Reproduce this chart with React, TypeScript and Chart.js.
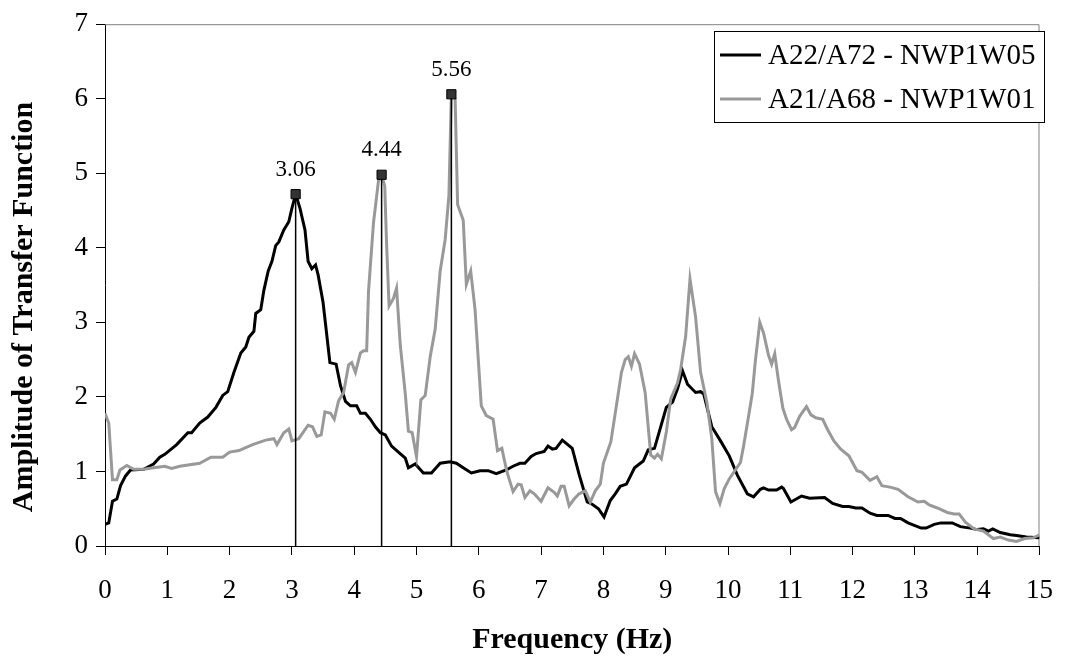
import { useEffect, useRef } from "react";
import { Chart, registerables } from "chart.js";

Chart.register(...registerables);

// Transfer function amplitude, record pair A22/A72 (NWP1W05)
const freqA22 = [
  0.0, 0.06, 0.12, 0.19, 0.25, 0.33, 0.41, 0.62, 0.78, 0.88, 0.96, 1.15, 1.33, 1.39, 1.52, 1.65,
  1.78, 1.89, 1.97, 2.07, 2.18, 2.26, 2.31, 2.39, 2.42, 2.5, 2.55, 2.62, 2.68, 2.74, 2.79, 2.87,
  2.95, 3.0, 3.06, 3.13, 3.21, 3.26, 3.32, 3.38, 3.42, 3.5, 3.61, 3.71, 3.78, 3.86, 3.94, 4.04,
  4.1, 4.18, 4.26, 4.34, 4.42, 4.5, 4.6, 4.71, 4.82, 4.87, 4.98, 5.11, 5.24, 5.38, 5.54, 5.64,
  5.75, 5.88, 6.02, 6.15, 6.28, 6.44, 6.55, 6.66, 6.74, 6.84, 6.92, 7.05, 7.11, 7.18, 7.24, 7.34,
  7.5, 7.61, 7.74, 7.82, 7.92, 8.01, 8.11, 8.19, 8.27, 8.37, 8.5, 8.64, 8.72, 8.82, 9.01, 9.11,
  9.19, 9.27, 9.35, 9.48, 9.56, 9.61, 9.74, 9.88, 10.02, 10.15, 10.31, 10.41, 10.52, 10.57, 10.65,
  10.78, 10.86, 10.89, 11.01, 11.18, 11.31, 11.55, 11.68, 11.84, 11.94, 12.05, 12.15, 12.28, 12.39,
  12.57, 12.68, 12.77, 12.89, 13.1, 13.18, 13.31, 13.42, 13.6, 13.73, 13.89, 14.0, 14.1, 14.18,
  14.25, 14.37, 14.53, 14.63, 14.79, 15.0,
];
const ampA22 = [
  0.29, 0.31, 0.6, 0.63, 0.81, 0.94, 1.02, 1.03, 1.1, 1.19, 1.23, 1.36, 1.52, 1.52, 1.65, 1.73,
  1.86, 2.02, 2.07, 2.33, 2.59, 2.67, 2.8, 2.88, 3.12, 3.17, 3.43, 3.69, 3.82, 4.03, 4.08, 4.24,
  4.35, 4.53, 4.72, 4.53, 4.24, 3.82, 3.72, 3.77, 3.64, 3.27, 2.46, 2.44, 2.15, 1.94, 1.88, 1.88,
  1.78, 1.78, 1.7, 1.6, 1.52, 1.49, 1.34, 1.26, 1.18, 1.05, 1.1, 0.98, 0.98, 1.11, 1.13, 1.11,
  1.05, 0.98, 1.01, 1.01, 0.97, 1.02, 1.07, 1.11, 1.11, 1.2, 1.24, 1.27, 1.34, 1.3, 1.31, 1.42,
  1.31, 0.96, 0.59, 0.56, 0.5, 0.39, 0.61, 0.7, 0.8, 0.83, 1.05, 1.14, 1.29, 1.31, 1.86, 1.93,
  2.11, 2.35, 2.17, 2.06, 2.07, 2.04, 1.6, 1.41, 1.21, 0.95, 0.7, 0.66, 0.76, 0.78, 0.75,
  0.75, 0.79, 0.77, 0.59, 0.67, 0.64, 0.65, 0.57, 0.53, 0.53, 0.51, 0.51, 0.44, 0.41,
  0.41, 0.37, 0.37, 0.31, 0.24, 0.24, 0.29, 0.31, 0.31, 0.26, 0.24, 0.22, 0.23, 0.2,
  0.23, 0.18, 0.15, 0.14, 0.12, 0.11,
];

// Transfer function amplitude, record pair A21/A68 (NWP1W01)
const freqA21 = [
  0.0, 0.06, 0.12, 0.19, 0.24, 0.35, 0.46, 0.62, 0.78, 0.96, 1.07, 1.2, 1.52, 1.7, 1.89, 2.0,
  2.15, 2.37, 2.58, 2.71, 2.76, 2.87, 2.95, 3.0, 3.11, 3.26, 3.33, 3.4, 3.47, 3.53, 3.62, 3.68,
  3.75, 3.83, 3.91, 3.96, 4.02, 4.1, 4.15, 4.2, 4.23, 4.31, 4.39, 4.44, 4.49, 4.52, 4.56, 4.63,
  4.68, 4.74, 4.82, 4.87, 4.93, 5.0, 5.07, 5.14, 5.22, 5.3, 5.38, 5.46, 5.52, 5.56, 5.62, 5.66,
  5.75, 5.8, 5.87, 5.94, 6.04, 6.12, 6.23, 6.3, 6.37, 6.45, 6.55, 6.63, 6.68, 6.74, 6.82, 6.89,
  7.0, 7.11, 7.21, 7.26, 7.32, 7.37, 7.45, 7.53, 7.61, 7.71, 7.79, 7.87, 7.95, 8.0, 8.12, 8.21,
  8.29, 8.35, 8.4, 8.45, 8.5, 8.58, 8.67, 8.76, 8.82, 8.87, 8.93, 9.01, 9.08, 9.19, 9.24, 9.32,
  9.39, 9.48, 9.56, 9.66, 9.74, 9.8, 9.87, 9.94, 10.02, 10.2, 10.25, 10.33, 10.39, 10.44, 10.51,
  10.57, 10.65, 10.7, 10.75, 10.81, 10.88, 10.94, 11.02, 11.07, 11.15, 11.26, 11.33, 11.41, 11.52,
  11.6, 11.7, 11.81, 11.94, 12.07, 12.15, 12.28, 12.39, 12.47, 12.6, 12.73, 12.89, 13.05, 13.15,
  13.23, 13.36, 13.52, 13.63, 13.71, 13.81, 13.95, 14.1, 14.26, 14.37, 14.5, 14.63, 14.76, 14.9,
  15.0,
];
const ampA21 = [
  1.78, 1.65, 0.89, 0.89, 1.02, 1.08, 1.03, 1.03, 1.05, 1.07, 1.04, 1.07, 1.11, 1.19, 1.19, 1.26,
  1.28, 1.36, 1.42, 1.44, 1.36, 1.52, 1.57, 1.41, 1.44, 1.62, 1.6, 1.47, 1.49, 1.8, 1.78, 1.7,
  1.95, 2.06, 2.43, 2.46, 2.33, 2.59, 2.62, 2.62, 3.42, 4.34, 4.9, 4.98, 4.83, 4.05, 3.22, 3.32,
  3.46, 2.69, 2.04, 1.54, 1.52, 1.2, 1.96, 2.02, 2.54, 2.91, 3.69, 4.11, 4.7, 6.06, 6.0, 4.58,
  4.37, 3.51, 3.69, 3.17, 1.88, 1.75, 1.7, 1.28, 1.31, 1.0, 0.73, 0.83, 0.82, 0.65, 0.74, 0.7,
  0.6, 0.78, 0.72, 0.67, 0.8, 0.8, 0.54, 0.63, 0.7, 0.74, 0.59, 0.74, 0.83, 1.11, 1.4, 1.89,
  2.33, 2.5, 2.54, 2.41, 2.58, 2.44, 2.06, 1.22, 1.18, 1.23, 1.17, 1.53, 1.97, 2.19, 2.37, 2.81,
  3.58, 3.07, 2.33, 1.93, 1.44, 0.73, 0.57, 0.77, 0.9, 1.12, 1.34, 1.74, 2.05, 2.49, 3.0,
  2.86, 2.56, 2.44, 2.58, 2.22, 1.85, 1.7, 1.56, 1.59, 1.74, 1.87, 1.76, 1.72, 1.7,
  1.56, 1.41, 1.3, 1.21, 1.01, 0.99, 0.88, 0.93, 0.81, 0.79, 0.76, 0.66, 0.59, 0.6,
  0.55, 0.51, 0.45, 0.43, 0.43, 0.32, 0.23, 0.2, 0.1, 0.12, 0.08, 0.06, 0.1, 0.11,
  0.15,
];

// Identified resonance peaks
const peakFreqs = [3.06, 4.44, 5.56];
const peakAmps = [4.72, 4.98, 6.06];
const peakLabels = ["3.06", "4.44", "5.56"];

const seriesNames = ["A22/A72 - NWP1W05", "A21/A68 - NWP1W01"];
const seriesColors = ["#000000", "#999999"];

const xTickValues = [0, 1, 2, 3, 4, 5, 6, 7, 8, 9, 10, 11, 12, 13, 14, 15];
const yTickValues = [0, 1, 2, 3, 4, 5, 6, 7];

const xTitle = "Frequency (Hz)";
const yTitle = "Amplitude of Transfer Function";

const SERIF = '"Liberation Serif", "Times New Roman", Times, serif';

const toPoints = (xs: number[], ys: number[]) => xs.map((x, i) => ({ x, y: ys[i] }));

// Gray frame on the top and right of the plot area
const framePlugin = {
  id: "plotFrame",
  beforeDatasetsDraw(chart: any) {
    const { ctx, chartArea: a } = chart;
    ctx.save();
    ctx.strokeStyle = "#808080";
    ctx.lineWidth = 1;
    ctx.beginPath();
    ctx.moveTo(a.left, a.top + 0.5);
    ctx.lineTo(a.right - 0.5, a.top + 0.5);
    ctx.lineTo(a.right - 0.5, a.bottom);
    ctx.stroke();
    ctx.restore();
  },
};

// Vertical axis title, set a little below the middle of the plot
const yTitlePlugin = {
  id: "yTitle",
  afterDraw(chart: any) {
    const { ctx } = chart;
    ctx.save();
    ctx.translate(32, 307);
    ctx.rotate(-Math.PI / 2);
    ctx.font = `bold 30px ${SERIF}`;
    ctx.fillStyle = "#000";
    ctx.textAlign = "center";
    ctx.textBaseline = "alphabetic";
    ctx.fillText(yTitle, 0, 0);
    ctx.restore();
  },
};

// Frequency labels above the peak markers
const peakLabelPlugin = {
  id: "peakLabels",
  afterDatasetsDraw(chart: any) {
    const { ctx } = chart;
    const idx = chart.data.datasets.findIndex((d: any) => d.id === "peaks");
    if (idx < 0) return;
    const meta = chart.getDatasetMeta(idx);
    ctx.save();
    ctx.font = `23px ${SERIF}`;
    ctx.fillStyle = "#000";
    ctx.textAlign = "center";
    ctx.textBaseline = "bottom";
    meta.data.forEach((el: any, i: number) => {
      ctx.fillText(peakLabels[i], el.x, el.y - 13);
    });
    ctx.restore();
  },
};

// Boxed legend in the upper-right corner of the plot
const legendBoxPlugin = {
  id: "legendBox",
  afterDraw(chart: any) {
    const { ctx } = chart;
    const left = 714;
    const top = 31;
    const right = 1045;
    const bottom = 123;
    ctx.save();
    ctx.fillStyle = "#fff";
    ctx.fillRect(left, top, right - left, bottom - top);
    ctx.strokeStyle = "#000";
    ctx.lineWidth = 1;
    ctx.strokeRect(left + 0.5, top + 0.5, right - left - 1, bottom - top - 1);
    ctx.font = `29px ${SERIF}`;
    ctx.textBaseline = "middle";
    ctx.textAlign = "left";
    const rows = [55, 99];
    seriesNames.forEach((name, i) => {
      ctx.strokeStyle = seriesColors[i];
      ctx.lineWidth = 3;
      ctx.beginPath();
      ctx.moveTo(720, rows[i]);
      ctx.lineTo(761, rows[i]);
      ctx.stroke();
      ctx.fillStyle = "#000";
      ctx.fillText(name, 768, rows[i] + 1);
    });
    ctx.restore();
  },
};

export default function App() {
  const canvasRef = useRef<HTMLCanvasElement | null>(null);

  useEffect(() => {
    const canvas = canvasRef.current;
    if (!canvas) return;

    const dropLines = peakFreqs.map((f, i) => ({
      type: "line" as const,
      data: [
        { x: f, y: 0 },
        { x: f, y: peakAmps[i] },
      ],
      borderColor: "#000",
      borderWidth: 1.5,
      pointRadius: 0,
      order: 1,
    }));

    const chart = new Chart(canvas, {
      type: "scatter",
      data: {
        datasets: [
          {
            id: "peaks",
            label: "peaks",
            data: toPoints(peakFreqs, peakAmps),
            pointStyle: "rect",
            pointRadius: 6.5,
            backgroundColor: "#333333",
            borderColor: "#000",
            borderWidth: 1,
            showLine: false,
            order: 0,
          } as any,
          ...dropLines,
          {
            type: "line",
            label: seriesNames[1],
            data: toPoints(freqA21, ampA21),
            borderColor: seriesColors[1],
            borderWidth: 3,
            pointRadius: 0,
            tension: 0,
            order: 2,
          },
          {
            type: "line",
            label: seriesNames[0],
            data: toPoints(freqA22, ampA22),
            borderColor: seriesColors[0],
            borderWidth: 3,
            pointRadius: 0,
            tension: 0,
            order: 3,
          },
        ],
      },
      options: {
        responsive: false,
        animation: false,
        devicePixelRatio: 1,
        layout: { padding: { top: 16, right: 20, left: 0, bottom: 0 } },
        plugins: {
          legend: { display: false },
          tooltip: { enabled: false },
        },
        scales: {
          x: {
            type: "linear",
            min: 0,
            max: 15,
            afterBuildTicks: (scale: any) => {
              scale.ticks = xTickValues.map((v) => ({ value: v }));
            },
            afterFit: (scale: any) => {
              scale.height = 119;
            },
            ticks: {
              color: "#000",
              font: { family: SERIF, size: 27 },
              padding: 20,
              maxRotation: 0,
              autoSkip: false,
            },
            grid: {
              drawOnChartArea: false,
              drawTicks: true,
              tickLength: 9,
              color: "#000",
            },
            border: { color: "#000", width: 1 },
            title: {
              display: true,
              text: xTitle,
              color: "#000",
              font: { family: SERIF, size: 30, weight: "bold" },
              padding: { top: 0, bottom: 7 },
            },
          },
          y: {
            type: "linear",
            min: 0,
            max: 7,
            afterBuildTicks: (scale: any) => {
              scale.ticks = yTickValues.map((v) => ({ value: v }));
            },
            afterFit: (scale: any) => {
              scale.width = 105;
            },
            ticks: {
              color: "#000",
              font: { family: SERIF, size: 27 },
              padding: 8,
              autoSkip: false,
            },
            grid: {
              drawOnChartArea: false,
              drawTicks: true,
              tickLength: 9,
              color: "#000",
            },
            border: { color: "#000", width: 1 },
            title: { display: false },
          },
        },
      },
      plugins: [framePlugin, yTitlePlugin, peakLabelPlugin, legendBoxPlugin],
    } as any);

    return () => chart.destroy();
  }, []);

  return (
    <div style={{ position: "fixed", left: 0, top: 0, width: 1073, height: 665, background: "#fff" }}>
      <canvas ref={canvasRef} width={1073} height={665} style={{ width: 1073, height: 665, display: "block" }} />
    </div>
  );
}
